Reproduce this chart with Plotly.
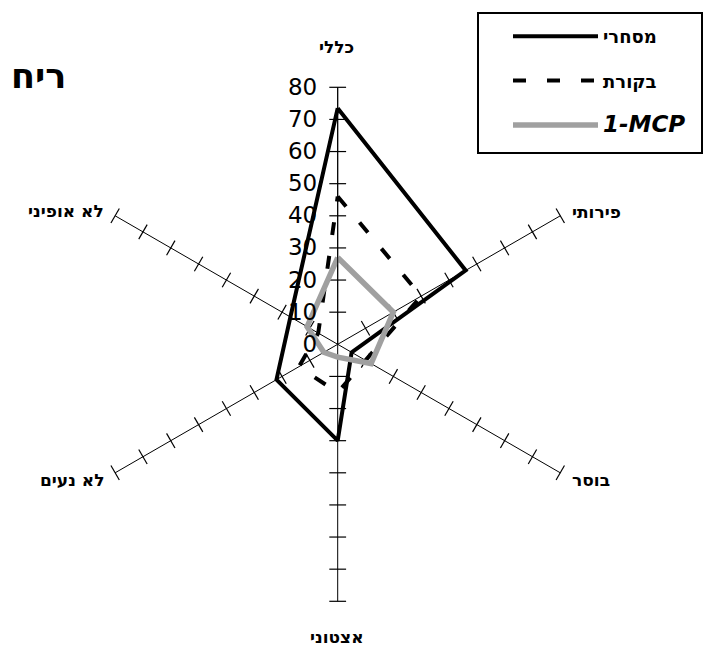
import plotly.graph_objects as go

# ---- data ----
categories = ["כללי", "פירותי", "בוסר", "אצטוני", "לא נעים", "לא אופיני"]
commercial = [73.5, 46, 5, 30, 22, 17]    # מסחרי
control = [46, 30, 10, 15, 14, 7]         # בקורת
mcp = [27, 20, 12, 4, 5, 11]              # 1-MCP
radial_ticks = [0, 10, 20, 30, 40, 50, 60, 70, 80]
series_names = ["מסחרי", "בקורת", "1-MCP"]
title_text = "ריח"

W, H = 703, 647
CX, CY, R = 337.7, 344.3, 257.0  # circle centre / radius in px

def closed(v):
    return list(v) + [v[0]]

theta_closed = closed(categories)

fig = go.Figure()

# tick crosses on every spoke
spoke_angles = [0, 60, 120, 180, 240, 300]
tick_r, tick_t, tick_a = [], [], []
for cat, ang in zip(categories, spoke_angles):
    for v in radial_ticks[1:]:
        tick_r.append(v)
        tick_t.append(cat)
        tick_a.append(ang)
fig.add_trace(go.Scatterpolar(
    r=tick_r, theta=tick_t, mode="markers", showlegend=False, hoverinfo="skip",
    marker=dict(symbol="line-ew", size=12, angle=tick_a,
                line=dict(color="black", width=1.2)),
))

fig.add_trace(go.Scatterpolar(
    r=closed(control), theta=theta_closed, mode="lines",
    name="<b>" + series_names[1] + "</b>",
    legendrank=2, legendgroup="b",
    line=dict(color="black", width=4, dash="13px,21px"),
))
fig.add_trace(go.Scatterpolar(
    r=closed(commercial), theta=theta_closed, mode="lines",
    name="<b>" + series_names[0] + "</b>",
    legendrank=1, legendgroup="a",
    line=dict(color="black", width=4),
))
fig.add_trace(go.Scatterpolar(
    r=closed(mcp), theta=theta_closed, mode="lines",
    name="<span style='font-family:DejaVu Sans;font-size:23px'><b><i>" + series_names[2] + "</i></b></span>",
    legendrank=3, legendgroup="c",
    line=dict(color="#a0a0a0", width=5.5),
))

dom_x = [(CX - R) / W, (CX + R) / W]
dom_y = [(H - CY - R) / H, (H - CY + R) / H]

fig.update_layout(
    width=W, height=H,
    margin=dict(l=0, r=0, t=0, b=0),
    paper_bgcolor="white",
    font=dict(family="DejaVu Sans", color="black"),
    polar=dict(
        domain=dict(x=dom_x, y=dom_y),
        bgcolor="white",
        radialaxis=dict(
            range=[0, 80], tickvals=radial_ticks, angle=90,
            side="counterclockwise",
            showgrid=False, showline=True, linecolor="black", linewidth=1,
            ticks="outside", ticklen=12, tickcolor="rgba(0,0,0,0)",
            tickangle=90,
            tickfont=dict(family="DejaVu Sans", size=23, color="black"),
        ),
        angularaxis=dict(
            direction="clockwise", rotation=90,
            showgrid=True, gridcolor="black", gridwidth=1,
            showline=False, ticks="", showticklabels=False,
        ),
    ),
    legend=dict(
        x=508 / W, y=1 - 18 / H, xanchor="left", yanchor="top",
        borderwidth=0, bgcolor="rgba(0,0,0,0)",
        font=dict(family="DejaVu Sans", size=18, color="black"),
        itemwidth=85, tracegroupgap=18, traceorder="grouped",
    ),
    showlegend=True,
)

# legend frame
fig.add_shape(type="rect", xref="paper", yref="paper",
              x0=478 / W, x1=702 / W, y0=1 - 153 / H, y1=1 - 13 / H,
              line=dict(color="black", width=2), fillcolor="rgba(0,0,0,0)", layer="above")

# title
fig.add_annotation(text="<b>" + title_text + "</b>", x=9 / W, y=1 - 76 / H,
                   xref="paper", yref="paper", xanchor="left", yanchor="middle",
                   showarrow=False, font=dict(family="DejaVu Sans", size=35, color="black"))

# category labels
label_pos = [
    (336.5, 47.5, "center"),
    (570, 212.5, "left"),
    (570, 479.5, "left"),
    (336.5, 637, "center"),
    (106, 479.5, "right"),
    (106, 211, "right"),
]
for cat, (px, py, anc) in zip(categories, label_pos):
    fig.add_annotation(text="<b>" + cat + "</b>", x=px / W, y=1 - py / H,
                       xref="paper", yref="paper", xanchor=anc, yanchor="middle",
                       showarrow=False, font=dict(family="DejaVu Sans", size=17, color="black"))

fig.write_html("out.html", post_script="document.body.style.margin='0';",
               config={"displayModeBar": False})
